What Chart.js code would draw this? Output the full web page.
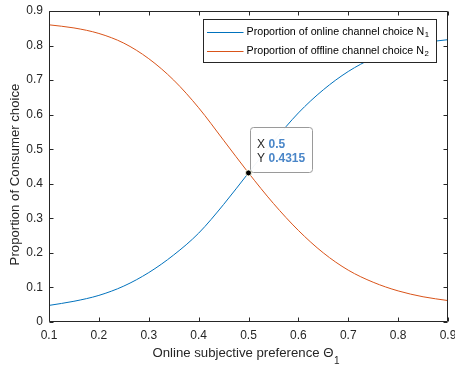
<!DOCTYPE html>
<html><head><meta charset="utf-8">
<script src="https://cdn.jsdelivr.net/npm/chart.js@4.4.0/dist/chart.umd.min.js"></script>
<style>html,body{margin:0;padding:0;background:#fff;overflow:hidden}#wrap{width:455px;height:367px;position:relative}</style>
</head><body><div id="wrap"><canvas id="c" width="455" height="367"></canvas></div>
<script>
// ---- data ----
const theta = [0.10,0.15,0.20,0.25,0.30,0.35,0.40,0.45,0.50,0.55,0.60,0.65,0.70,0.75,0.80,0.85,0.90];
const onlineShare = [0.048,0.060,0.077,0.104,0.143,0.194,0.257,0.340,0.4315,0.522,0.605,0.672,0.725,0.764,0.792,0.808,0.817];
const offlineShare = [0.860,0.851,0.835,0.807,0.762,0.700,0.620,0.526,0.4315,0.343,0.265,0.200,0.150,0.115,0.090,0.073,0.062];
const xTickLabels = ['0.1','0.2','0.3','0.4','0.5','0.6','0.7','0.8','0.9'];
const yTickLabels = ['0','0.1','0.2','0.3','0.4','0.5','0.6','0.7','0.8','0.9'];
const datatipX = 0.5;
const datatipY = 0.4315;
const seriesNames = ['Proportion of online channel choice N','Proportion of offline channel choice N'];
const seriesSubs = ['1','2'];
const xTitle = 'Online subjective preference \u0398';
const xTitleSub = '1';
const yTitle = 'Proportion of Consumer choice';

const FONT = '"Liberation Sans", Arial, Helvetica, sans-serif';
const AX = '#262626';
const BLUE = '#0072BD';
const RED = '#D95319';

function drawSub(ctx, x, y, main, sub, size, subSize, drop) {
  ctx.font = size + 'px ' + FONT;
  ctx.fillText(main, x, y);
  const w = ctx.measureText(main).width;
  ctx.font = subSize + 'px ' + FONT;
  ctx.fillText(sub, x + w + 0.5, y + drop);
  return w + ctx.measureText(sub).width + 0.5;
}
function subWidth(ctx, main, sub, size, subSize) {
  ctx.font = size + 'px ' + FONT;
  const w = ctx.measureText(main).width;
  ctx.font = subSize + 'px ' + FONT;
  return w + 0.5 + ctx.measureText(sub).width;
}
function roundRect(ctx, x, y, w, h, r) {
  ctx.beginPath();
  ctx.moveTo(x + r, y);
  ctx.lineTo(x + w - r, y); ctx.arcTo(x + w, y, x + w, y + r, r);
  ctx.lineTo(x + w, y + h - r); ctx.arcTo(x + w, y + h, x + w - r, y + h, r);
  ctx.lineTo(x + r, y + h); ctx.arcTo(x, y + h, x, y + h - r, r);
  ctx.lineTo(x, y + r); ctx.arcTo(x, y, x + r, y, r);
  ctx.closePath();
}

const overlayPlugin = {
  id: 'overlay',
  afterDatasetDraw(chart, args) {
    if (args.index !== 1) return; // after curves, before the datatip marker
    const {ctx, scales: {x, y}} = chart;
    ctx.save();
    // legend
    const lx = 203.5, ly = 19.5, lw = 233, lh = 43;
    ctx.fillStyle = '#fff';
    ctx.fillRect(lx, ly, lw, lh);
    ctx.strokeStyle = AX; ctx.lineWidth = 1;
    ctx.strokeRect(lx, ly, lw, lh);
    const rows = [32.5, 51.5];
    const cols = [BLUE, RED];
    for (let i = 0; i < 2; i++) {
      ctx.strokeStyle = cols[i]; ctx.lineWidth = 1;
      ctx.beginPath(); ctx.moveTo(207, rows[i]); ctx.lineTo(243.5, rows[i]); ctx.stroke();
      ctx.fillStyle = '#000'; ctx.textAlign = 'left'; ctx.textBaseline = 'alphabetic';
      drawSub(ctx, 246.5, rows[i] + 2.3, seriesNames[i], seriesSubs[i], 10.7, 7.8, 2.6);
    }
    // datatip box
    const px = x.getPixelForValue(datatipX), py = y.getPixelForValue(datatipY);
    const bx = Math.round(px) + 1.5, by = Math.round(py) - 45.5;
    roundRect(ctx, bx, by, 62, 45, 3);
    ctx.fillStyle = 'rgba(255,255,255,0.95)'; ctx.fill();
    ctx.strokeStyle = '#9a9a9a'; ctx.lineWidth = 1; ctx.stroke();
    ctx.textAlign = 'left'; ctx.textBaseline = 'alphabetic';
    ctx.fillStyle = '#262626'; ctx.font = '12px ' + FONT;
    ctx.fillText('X', bx + 6.5, by + 20.3);
    ctx.fillText('Y', bx + 6.5, by + 34);
    ctx.fillStyle = '#4a86c8'; ctx.font = 'bold 12px ' + FONT;
    ctx.fillText(String(datatipX), bx + 18, by + 20.3);
    ctx.fillText(String(datatipY), bx + 18, by + 34);
    ctx.restore();
  },
  afterDraw(chart) {
    const {ctx, chartArea: a, scales: {x, y}} = chart;
    ctx.save();
    ctx.strokeStyle = AX; ctx.lineWidth = 1;
    const L = Math.round(a.left) + 0.5, R = Math.round(a.right) - 0.5, T = Math.round(a.top) + 0.5, B = Math.round(a.bottom) - 0.5;
    ctx.beginPath();
    ctx.rect(L, T, R - L, B - T);
    x.ticks.forEach(t => {
      const p = Math.round(x.getPixelForValue(t.value)) + 0.5;
      ctx.moveTo(p, B); ctx.lineTo(p, B - 4);
      ctx.moveTo(p, T); ctx.lineTo(p, T + 4);
    });
    y.ticks.forEach(t => {
      const p = Math.round(y.getPixelForValue(t.value)) + 0.5;
      ctx.moveTo(L, p); ctx.lineTo(L + 4, p);
      ctx.moveTo(R, p); ctx.lineTo(R - 4, p);
    });
    ctx.stroke();
    // axis titles
    ctx.fillStyle = AX; ctx.textAlign = 'left'; ctx.textBaseline = 'alphabetic';
    const tw = subWidth(ctx, xTitle, xTitleSub, 13.2, 10);
    drawSub(ctx, 246 - tw / 2, 357, xTitle, xTitleSub, 13.2, 10, 6.5);
    ctx.translate(18.5, 174.5);
    ctx.rotate(-Math.PI / 2);
    ctx.font = '13.2px ' + FONT; ctx.textAlign = 'center';
    ctx.fillText(yTitle, 0, 0);
    ctx.restore();
  }
};

const lookup = (labels) => (v) => {
  const l = labels.find(s => Math.abs(parseFloat(s) - v) < 1e-6);
  return l === undefined ? '' : l;
};

new Chart(document.getElementById('c'), {
  type: 'line',
  data: {
    datasets: [
      { label: 'datatip', type: 'scatter', data: [{x: datatipX, y: datatipY}],
        pointRadius: 3, pointBackgroundColor: '#000', pointBorderColor: 'rgba(255,255,230,0.9)', pointBorderWidth: 1, showLine: false },
      { label: seriesNames[0] + seriesSubs[0], data: theta.map((t, i) => ({x: t, y: onlineShare[i]})),
        borderColor: BLUE, borderWidth: 1, pointRadius: 0, fill: false, cubicInterpolationMode: 'monotone' },
      { label: seriesNames[1] + seriesSubs[1], data: theta.map((t, i) => ({x: t, y: offlineShare[i]})),
        borderColor: RED, borderWidth: 1, pointRadius: 0, fill: false, cubicInterpolationMode: 'monotone' }
    ]
  },
  options: {
    responsive: false, animation: false, devicePixelRatio: 1,
    layout: { padding: { left: 0, right: 7, top: 11, bottom: 0 } },
    plugins: { legend: { display: false }, tooltip: { enabled: false } },
    events: [],
    scales: {
      x: { type: 'linear', min: 0.1, max: 0.9,
        ticks: { stepSize: 0.1, callback: lookup(xTickLabels), color: AX, padding: 6, maxRotation: 0, autoSkip: false,
          font: { family: FONT, size: 12 } },
        grid: { display: false, drawTicks: false, tickLength: 0 }, border: { display: false },
        afterFit: s => { s.height = 45; s.paddingLeft = 0; s.paddingRight = 0; } },
      y: { type: 'linear', min: 0, max: 0.9,
        ticks: { stepSize: 0.1, callback: lookup(yTickLabels), color: AX, padding: 6, autoSkip: false,
          font: { family: FONT, size: 12 } },
        grid: { display: false, drawTicks: false, tickLength: 0 }, border: { display: false },
        afterFit: s => { s.width = 49; s.paddingTop = 0; s.paddingBottom = 0; } }
    }
  },
  plugins: [overlayPlugin]
});
</script>
</body></html>
